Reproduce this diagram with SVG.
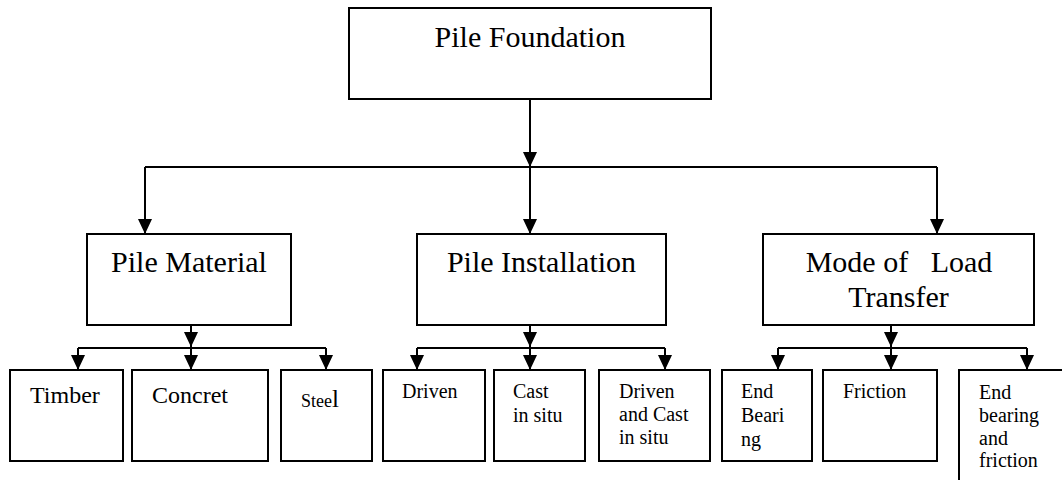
<svg xmlns="http://www.w3.org/2000/svg" width="1062" height="480" viewBox="0 0 1062 480">
<style>
.box{fill:#fff;stroke:#000;stroke-width:2}
.ln{fill:none;stroke:#000;stroke-width:2}
.ar{marker-end:url(#ah)}
.t{font-family:'Liberation Serif','Times New Roman','DejaVu Serif',serif;fill:#000}
.big{font-size:30px;text-anchor:middle}
.mid{font-size:24px}
.sm{font-size:20px}
</style>
<defs>
<marker id="ah" viewBox="0 0 15 14" refX="15" refY="7" markerWidth="15" markerHeight="14" markerUnits="userSpaceOnUse" orient="auto">
<path d="M0,0 L15,7 L0,14 z" fill="#000"/>
</marker>
</defs>
<rect width="1062" height="480" fill="#fff"/>
<g id="connectors">
<path class="ln ar" d="M530,99 V167"/>
<path class="ln" d="M145,167 H937"/>
<path class="ln ar" d="M145,167 V234"/>
<path class="ln ar" d="M530,167 V234"/>
<path class="ln ar" d="M937,167 V234"/>
<path class="ln ar" d="M191,325 V347"/>
<path class="ln" d="M78,348 H326"/>
<path class="ln ar" d="M78,348 V370"/>
<path class="ln ar" d="M191,348 V370"/>
<path class="ln ar" d="M326,348 V370"/>
<path class="ln ar" d="M530,325 V347"/>
<path class="ln" d="M417,348 H665"/>
<path class="ln ar" d="M417,348 V370"/>
<path class="ln ar" d="M530,348 V370"/>
<path class="ln ar" d="M665,348 V370"/>
<path class="ln ar" d="M891,325 V347"/>
<path class="ln" d="M778,348 H1027"/>
<path class="ln ar" d="M778,348 V370"/>
<path class="ln ar" d="M891,348 V370"/>
<path class="ln ar" d="M1027,348 V370"/>
</g>
<g id="pile-foundation">
<rect class="box" x="349" y="8" width="362" height="91"/>
<text class="t big" font-family="Liberation Serif, serif" x="530" y="47">Pile Foundation</text>
</g>
<g id="pile-material">
<rect class="box" x="87" y="234" width="204" height="91"/>
<text class="t big" font-family="Liberation Serif, serif" x="189" y="272">Pile Material</text>
</g>
<g id="pile-installation">
<rect class="box" x="417" y="234" width="249" height="91"/>
<text class="t big" font-family="Liberation Serif, serif" x="541.5" y="272">Pile Installation</text>
</g>
<g id="mode-of-load-transfer">
<rect class="box" x="763" y="234" width="271" height="91"/>
<text class="t big" font-family="Liberation Serif, serif" x="899" y="272" xml:space="preserve" style="white-space:pre">Mode of   Load</text>
<text class="t big" font-family="Liberation Serif, serif" x="898.5" y="307">Transfer</text>
</g>
<g id="timber">
<rect class="box" x="10" y="370" width="113" height="91"/>
<text class="t mid" font-family="Liberation Serif, serif" x="30" y="403">Timber</text>
</g>
<g id="concrete">
<rect class="box" x="132" y="370" width="136" height="91"/>
<text class="t mid" font-family="Liberation Serif, serif" x="152" y="403">Concret</text>
</g>
<g id="steel">
<rect class="box" x="281" y="370" width="91" height="91"/>
<text class="t" font-family="Liberation Serif, serif" x="301" y="407"><tspan style="font-size:18px">Stee</tspan><tspan style="font-size:25px">l</tspan></text>
</g>
<g id="driven">
<rect class="box" x="383" y="370" width="102" height="91"/>
<text class="t sm" font-family="Liberation Serif, serif" x="402" y="398">Driven</text>
</g>
<g id="cast-in-situ">
<rect class="box" x="494" y="370" width="91" height="91"/>
<text class="t sm" font-family="Liberation Serif, serif" x="513" y="398">Cast</text>
<text class="t sm" font-family="Liberation Serif, serif" x="513" y="422">in situ</text>
</g>
<g id="driven-and-cast">
<rect class="box" x="599" y="370" width="111" height="91"/>
<text class="t sm" font-family="Liberation Serif, serif" x="619" y="398">Driven</text>
<text class="t sm" font-family="Liberation Serif, serif" x="619" y="421">and Cast</text>
<text class="t sm" font-family="Liberation Serif, serif" x="619" y="444">in situ</text>
</g>
<g id="end-bearing">
<rect class="box" x="722" y="370" width="90" height="91"/>
<text class="t sm" font-family="Liberation Serif, serif" x="741" y="398">End</text>
<text class="t sm" font-family="Liberation Serif, serif" x="741" y="422">Beari</text>
<text class="t sm" font-family="Liberation Serif, serif" x="741" y="446">ng</text>
</g>
<g id="friction">
<rect class="box" x="823" y="370" width="114" height="91"/>
<text class="t sm" font-family="Liberation Serif, serif" x="843" y="398">Friction</text>
</g>
<g id="end-bearing-friction">
<rect class="box" x="959" y="370" width="120" height="130"/>
<text class="t sm" font-family="Liberation Serif, serif" x="979" y="399">End</text>
<text class="t sm" font-family="Liberation Serif, serif" x="979" y="422">bearing</text>
<text class="t sm" font-family="Liberation Serif, serif" x="979" y="445">and</text>
<text class="t sm" font-family="Liberation Serif, serif" x="979" y="467">friction</text>
</g>
</svg>
